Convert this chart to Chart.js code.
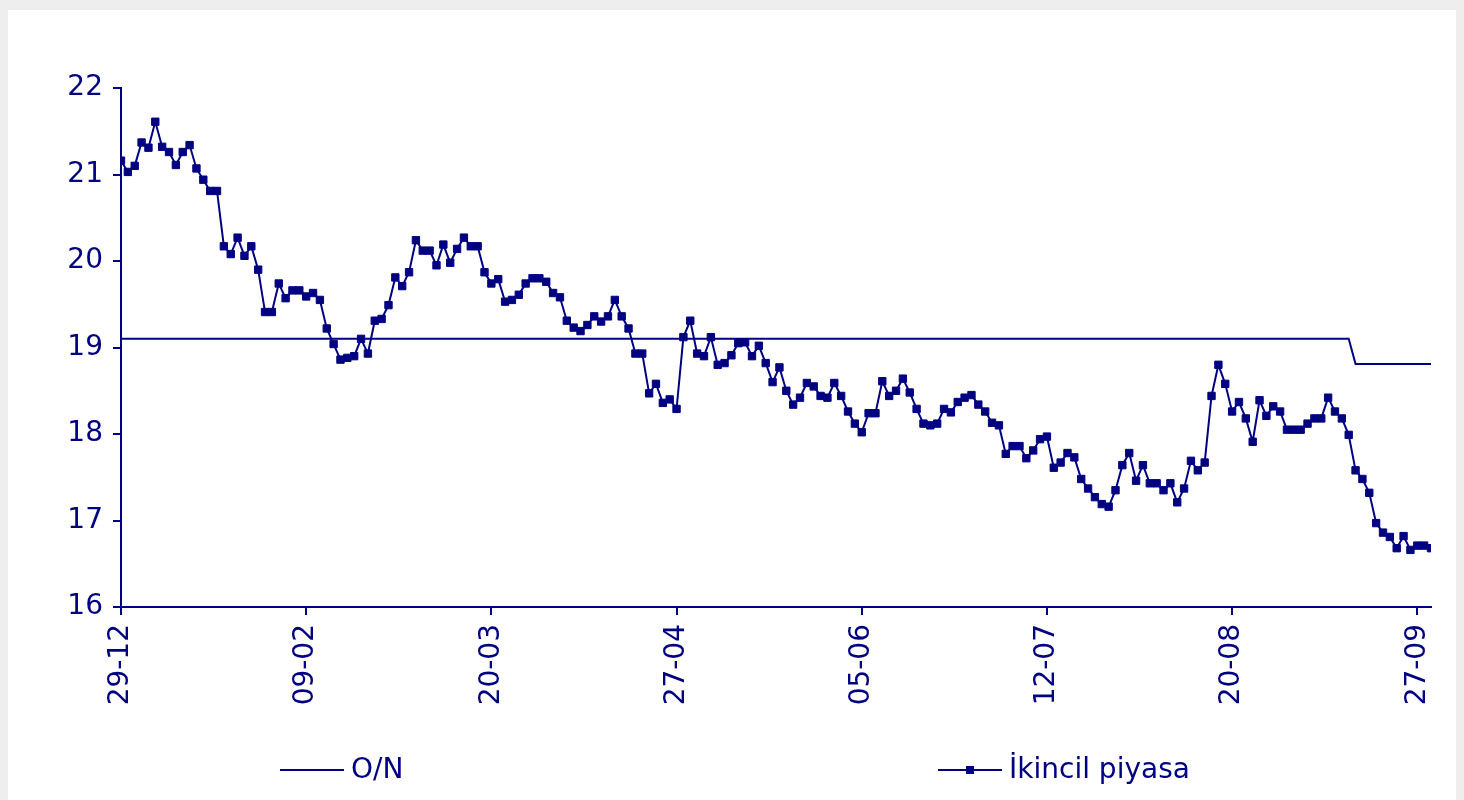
<!DOCTYPE html>
<html>
<head>
<meta charset="utf-8">
<script src="https://cdn.jsdelivr.net/npm/chart.js@4.4.1/dist/chart.umd.min.js"></script>
<style>
  html, body { margin: 0; padding: 0; background: #ffffff; }
  #wrap { width: 1464px; height: 800px; }
</style>
</head>
<body>
<div id="wrap"><canvas id="myChart" width="1464" height="800"></canvas></div>
<script>
// tick labels, one every 27 observations
const tickLabels = ["29-12", "09-02", "20-03", "27-04", "05-06", "12-07", "20-08", "27-09"];
const tickEvery = 27;

const seriesNames = ["O/N", "İkincil piyasa"];

const onRate = [
  19.1, 19.1, 19.1, 19.1, 19.1, 19.1, 19.1, 19.1, 19.1, 19.1, 19.1, 19.1, 19.1, 19.1, 19.1, 19.1, 19.1, 19.1, 19.1, 19.1,
  19.1, 19.1, 19.1, 19.1, 19.1, 19.1, 19.1, 19.1, 19.1, 19.1, 19.1, 19.1, 19.1, 19.1, 19.1, 19.1, 19.1, 19.1, 19.1, 19.1,
  19.1, 19.1, 19.1, 19.1, 19.1, 19.1, 19.1, 19.1, 19.1, 19.1, 19.1, 19.1, 19.1, 19.1, 19.1, 19.1, 19.1, 19.1, 19.1, 19.1,
  19.1, 19.1, 19.1, 19.1, 19.1, 19.1, 19.1, 19.1, 19.1, 19.1, 19.1, 19.1, 19.1, 19.1, 19.1, 19.1, 19.1, 19.1, 19.1, 19.1,
  19.1, 19.1, 19.1, 19.1, 19.1, 19.1, 19.1, 19.1, 19.1, 19.1, 19.1, 19.1, 19.1, 19.1, 19.1, 19.1, 19.1, 19.1, 19.1, 19.1,
  19.1, 19.1, 19.1, 19.1, 19.1, 19.1, 19.1, 19.1, 19.1, 19.1, 19.1, 19.1, 19.1, 19.1, 19.1, 19.1, 19.1, 19.1, 19.1, 19.1,
  19.1, 19.1, 19.1, 19.1, 19.1, 19.1, 19.1, 19.1, 19.1, 19.1, 19.1, 19.1, 19.1, 19.1, 19.1, 19.1, 19.1, 19.1, 19.1, 19.1,
  19.1, 19.1, 19.1, 19.1, 19.1, 19.1, 19.1, 19.1, 19.1, 19.1, 19.1, 19.1, 19.1, 19.1, 19.1, 19.1, 19.1, 19.1, 19.1, 19.1,
  19.1, 19.1, 19.1, 19.1, 19.1, 19.1, 19.1, 19.1, 19.1, 19.1, 19.1, 19.1, 19.1, 19.1, 19.1, 19.1, 19.1, 19.1, 19.1, 19.1,
  18.81, 18.81, 18.81, 18.81, 18.81, 18.81, 18.81, 18.81, 18.81, 18.81, 18.81, 18.81
];

const secondary = [
  21.16, 21.03, 21.10, 21.37, 21.31, 21.61, 21.32, 21.26, 21.11, 21.26, 21.34, 21.07, 20.94, 20.81, 20.81, 20.17, 20.08, 20.27, 20.06, 20.17,
  19.90, 19.41, 19.41, 19.74, 19.57, 19.66, 19.66, 19.59, 19.63, 19.55, 19.22, 19.04, 18.86, 18.88, 18.90, 19.10, 18.93, 19.31, 19.33, 19.49,
  19.81, 19.71, 19.87, 20.24, 20.12, 20.12, 19.95, 20.19, 19.98, 20.14, 20.27, 20.17, 20.17, 19.87, 19.74, 19.79, 19.53, 19.55, 19.61, 19.74,
  19.80, 19.80, 19.76, 19.63, 19.58, 19.31, 19.23, 19.19, 19.26, 19.36, 19.30, 19.36, 19.55, 19.36, 19.22, 18.93, 18.93, 18.47, 18.58, 18.36,
  18.40, 18.29, 19.12, 19.31, 18.93, 18.90, 19.12, 18.80, 18.82, 18.91, 19.05, 19.06, 18.90, 19.02, 18.82, 18.60, 18.77, 18.50, 18.34, 18.42,
  18.59, 18.55, 18.44, 18.42, 18.59, 18.44, 18.26, 18.12, 18.02, 18.24, 18.24, 18.61, 18.44, 18.50, 18.64, 18.48, 18.29, 18.12, 18.10, 18.12,
  18.29, 18.25, 18.37, 18.42, 18.45, 18.34, 18.26, 18.13, 18.10, 17.77, 17.86, 17.86, 17.72, 17.81, 17.94, 17.97, 17.61, 17.67, 17.78, 17.73,
  17.48, 17.37, 17.27, 17.19, 17.16, 17.35, 17.64, 17.78, 17.46, 17.64, 17.43, 17.43, 17.35, 17.43, 17.21, 17.37, 17.69, 17.58, 17.67, 18.44,
  18.80, 18.58, 18.26, 18.37, 18.18, 17.91, 18.39, 18.21, 18.32, 18.26, 18.05, 18.05, 18.05, 18.12, 18.18, 18.18, 18.42, 18.26, 18.18, 17.99,
  17.58, 17.48, 17.32, 16.97, 16.86, 16.81, 16.68, 16.82, 16.66, 16.71, 16.71, 16.68
];

const navy = "#000080";
const fontFamily = "'DejaVu Sans', Verdana, sans-serif";

const toPoints = (arr) => arr.map((v, i) => ({ x: i, y: v }));

// grey frame around the white chart sheet
const frame = {
  id: "frame",
  beforeDraw(chart) {
    const c = chart.ctx;
    c.save();
    c.fillStyle = "#eeeeee";
    c.fillRect(0, 0, chart.width, chart.height);
    c.fillStyle = "#ffffff";
    c.fillRect(8, 10, chart.width - 16, chart.height - 10);
    c.restore();
  },
};

// legend below the axis labels, spread like the original
const bottomLegend = {
  id: "bottomLegend",
  afterDraw(chart) {
    const c = chart.ctx;
    const y = 770;
    const starts = [280, 938];
    c.save();
    c.font = "28px " + fontFamily;
    c.textBaseline = "middle";
    chart.data.datasets.forEach((ds, i) => {
      const x = starts[i];
      c.strokeStyle = ds.borderColor;
      c.lineWidth = 2;
      c.beginPath();
      c.moveTo(x, y);
      c.lineTo(x + 64, y);
      c.stroke();
      if (ds.pointRadius > 0) {
        c.fillStyle = ds.pointBackgroundColor;
        c.fillRect(x + 28, y - 4, 8, 8);
      }
      c.fillStyle = navy;
      c.fillText(ds.label, x + 71, y + 1);
    });
    c.restore();
  },
};

function myLoadFunction() {
  const ctx = document.getElementById("myChart");

  const config = {
    type: "line",
    data: {
      datasets: [
        {
          label: seriesNames[0],
          data: toPoints(onRate),
          borderColor: navy,
          borderWidth: 2,
          pointRadius: 0,
          tension: 0,
        },
        {
          label: seriesNames[1],
          data: toPoints(secondary),
          borderColor: navy,
          borderWidth: 2,
          pointStyle: "rect",
          pointRadius: 5.2,
          pointBorderWidth: 1,
          pointBackgroundColor: navy,
          pointBorderColor: navy,
          tension: 0,
        },
      ],
    },
    options: {
      responsive: false,
      animation: false,
      layout: { padding: { top: 88, right: 33, left: 0, bottom: 0 } },
      plugins: {
        legend: { display: false },
        tooltip: { enabled: false },
      },
      scales: {
        x: {
          type: "linear",
          min: 0,
          max: secondary.length - 1,
          afterFit: (scale) => { scale.height = 193; },
          afterBuildTicks: (axis) => {
            axis.ticks = tickLabels.map((t, i) => ({ value: i * tickEvery }));
          },
          border: { display: true, color: navy, width: 2 },
          grid: { drawOnChartArea: false, drawTicks: true, tickLength: 8, color: navy, lineWidth: 2 },
          ticks: {
            autoSkip: false,
            minRotation: 90,
            maxRotation: 90,
            padding: 9,
            color: navy,
            font: { family: fontFamily, size: 28 },
            callback: (v) => tickLabels[Math.round(v / tickEvery)],
          },
        },
        y: {
          min: 16,
          max: 22,
          afterFit: (scale) => { scale.width = 121; },
          border: { display: true, color: navy, width: 2 },
          grid: { drawOnChartArea: false, drawTicks: true, tickLength: 8, color: navy, lineWidth: 2 },
          ticks: {
            stepSize: 1,
            padding: 10,
            color: navy,
            font: { family: fontFamily, size: 28 },
          },
        },
      },
    },
    plugins: [frame, bottomLegend],
  };

  const myLineChart = new Chart(ctx, config);
}

document.addEventListener("DOMContentLoaded", myLoadFunction);
</script>
</body>
</html>
